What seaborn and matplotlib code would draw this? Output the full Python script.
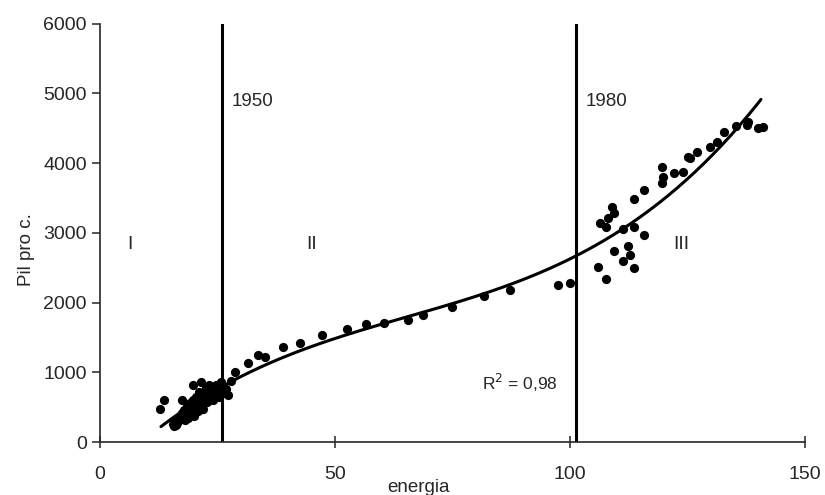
import numpy as np
import pandas as pd
import matplotlib
matplotlib.use("Agg")
import matplotlib.pyplot as plt
import seaborn as sns

# energia vs Pil pro capite
energia = [
    12.8, 13.6, 17.4, 15.6, 16.0, 16.4, 16.8, 17.2, 17.0, 17.5, 17.8, 18.0,
    18.3, 18.6, 18.8, 19.0, 19.2, 19.5, 19.8, 19.8, 20.0, 20.2, 20.5, 20.8,
    21.0, 21.2, 21.5, 21.6, 22.0, 22.2, 22.5, 22.8, 23.0, 23.3, 23.6, 24.0,
    24.2, 24.5, 24.8, 25.0, 25.3, 25.6, 25.8, 26.2, 26.8, 27.2, 28.0, 28.7,
    31.5, 33.6, 35.1, 38.9, 42.6, 47.2, 52.5, 56.6, 60.4, 65.5, 68.7, 74.9,
    81.7, 87.2, 97.4, 100.0, 106.0, 107.7, 106.4, 107.7, 108.1, 109.4, 108.9,
    109.4, 111.3, 112.3, 112.8, 111.3, 113.6, 113.6, 115.7, 113.6, 115.7,
    119.6, 119.8, 119.6, 122.1, 124.0, 125.1, 125.5, 127.0, 129.8, 131.3,
    132.8, 135.3, 137.7, 137.9, 140.0, 141.0,
    15.8, 16.2, 18.2,
]
pil = [
    470, 600, 600, 260, 300, 280, 320, 360, 380, 420, 350, 460,
    400, 520, 340, 470, 560, 430, 600, 820, 380, 500, 650, 450,
    720, 560, 860, 620, 480, 700, 780, 580, 650, 820, 700, 600,
    760, 680, 820, 720, 640, 780, 860, 700, 760, 674, 880, 1004,
    1133, 1248, 1220, 1363, 1420, 1535, 1621, 1693, 1707, 1750, 1822, 1937,
    2095, 2181, 2252, 2281, 2511, 2338, 3142, 3085, 3214, 3286, 3372,
    2740, 3056, 2812, 2683, 2597, 3085, 2496, 2970, 3486, 3616,
    3945, 3802, 3716, 3859, 3874, 4089, 4075, 4161, 4232, 4304,
    4448, 4534, 4548, 4591, 4505, 4519,
    230, 250, 310,
]
periodi = ["I", "II", "III"]
anni = ["1950", "1980"]
anni_x = [25.9, 101.3]

df = pd.DataFrame({"energia": energia, "pil": pil})

# cubic trendline, as the spreadsheet did
coef = np.polyfit(df["energia"], df["pil"], 3)
xs = np.linspace(13.0, 140.6, 200)
trend = pd.DataFrame({"energia": xs, "pil": np.polyval(coef, xs)})
pred = np.polyval(coef, df["energia"])
r2 = 1 - ((df["pil"] - pred) ** 2).sum() / ((df["pil"] - df["pil"].mean()) ** 2).sum()
print(f"R2 = {r2:.3f}")

sns.set_style("ticks")
plt.rcParams["font.family"] = ["Liberation Sans", "DejaVu Sans"]

fig = plt.figure(figsize=(8.25, 4.95), dpi=100)
ax = fig.add_axes([0.121, 0.107, 0.855, 0.845])

sns.scatterplot(data=df, x="energia", y="pil", ax=ax, color="black",
                s=44, edgecolor="black", linewidth=0, zorder=3)
sns.lineplot(data=trend, x="energia", y="pil", ax=ax, color="black",
             lw=2.2, zorder=2)
for xv, lab in zip(anni_x, anni):
    ax.axvline(xv, color="black", lw=2.2, zorder=1)
    ax.text(xv + 2.1, 4890, lab, fontsize=13.5, va="center", ha="left")

for xv, lab in zip([6.4, 45, 123.6], periodi):
    ax.text(xv, 2830, lab, fontsize=14, ha="center", va="center")

ax.text(81.3, 846, "R$^2$ = 0,98", fontsize=12.5, ha="left", va="center")

ax.set_xlim(0, 150)
ax.set_ylim(0, 6000)
ax.set_xticks([0, 50, 100, 150])
ax.set_yticks(range(0, 6001, 1000))
ax.tick_params(axis="x", direction="inout", length=8, width=1.1,
               labelsize=14, pad=13)
ax.tick_params(axis="y", direction="out", length=6, width=1.1, labelsize=14)
for s in ("left", "bottom"):
    ax.spines[s].set_linewidth(1.2)
sns.despine(ax=ax)

ax.set_xlabel("energia", fontsize=13.5)
ax.set_ylabel("Pil pro c.", fontsize=13.5)
ax.xaxis.set_label_coords(0.452, -0.088)
ax.yaxis.set_label_coords(-0.092, 0.46)

fig.savefig("out.png", dpi=100)
